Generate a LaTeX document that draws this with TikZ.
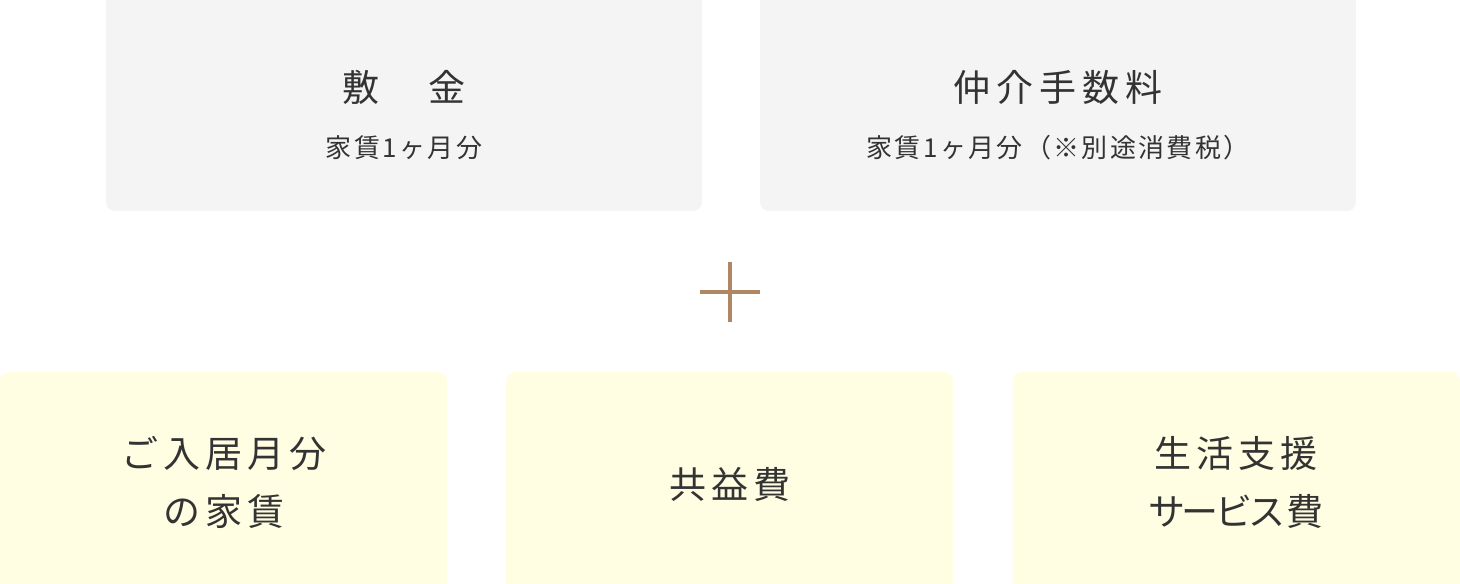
\documentclass[tikz,border=0pt]{standalone}
\usepackage{fontspec}
\setmainfont{Noto Sans CJK JP}
\newfontfamily\titlefont[LetterSpace=16]{Noto Sans CJK JP}
\newfontfamily\subfont[LetterSpace=9]{Noto Sans CJK JP}
\newfontfamily\botfont[LetterSpace=13]{Noto Sans CJK JP}
\newfontfamily\palfont{Noto Sans CJK JP}
\newcommand{\kk}{\kern-3.8pt}
\definecolor{graybox}{HTML}{F4F4F4}
\definecolor{yellowbox}{HTML}{FFFEE3}
\definecolor{plusc}{HTML}{AF8765}
\definecolor{txt}{HTML}{333333}
\begin{document}
\begin{tikzpicture}[x=1pt,y=-1pt,
  gbox/.style={fill=graybox,draw=none,rounded corners=9pt},
  ybox/.style={fill=yellowbox,draw=none,rounded corners=9pt},
  ttl/.style={text=txt,font=\titlefont\fontsize{37}{58}\selectfont,align=center,inner sep=0pt},
  sub/.style={text=txt,font=\subfont\fontsize{26}{30}\selectfont,align=center,inner sep=0pt},
  bot/.style={text=txt,font=\botfont\fontsize{37}{58}\selectfont,align=center,inner sep=0pt},
  plusline/.style={draw=plusc,line width=4pt}]
\useasboundingbox (0,0) rectangle (1460,584);
\fill[gbox] (106,-12) rectangle (702,211);
\fill[gbox] (760,-12) rectangle (1356,211);
\fill[ybox] (0,372) rectangle (447,596);
\fill[ybox] (506,372) rectangle (953,596);
\fill[ybox] (1013,372) rectangle (1460,596);
\node[ttl] (t1) at (404,87) {敷　金};
\node[sub] (s1) at (404,148) {家賃1ヶ月分};
\node[ttl] (t2) at (1058,87) {仲介手数料};
\node[sub] (s2) at (1058,148) {家賃1ヶ月分（※別途消費税）};
\coordinate (pl) at (700,292);
\coordinate (pr) at (760,292);
\coordinate (pt) at (730,262);
\coordinate (pb) at (730,322);
\draw[plusline] (pl) -- (pr);
\draw[plusline] (pt) -- (pb);
\node[bot] (b1) at (224,482) {ご入居月分\\の家賃};
\node[bot] (b2) at (730,484) {共益費};
\node[bot] (b3) at (1236,482) {生活支援\\{\palfont サ\kk ー\kk ビ\kk ス\kern1pt 費}};
\end{tikzpicture}
\end{document}
